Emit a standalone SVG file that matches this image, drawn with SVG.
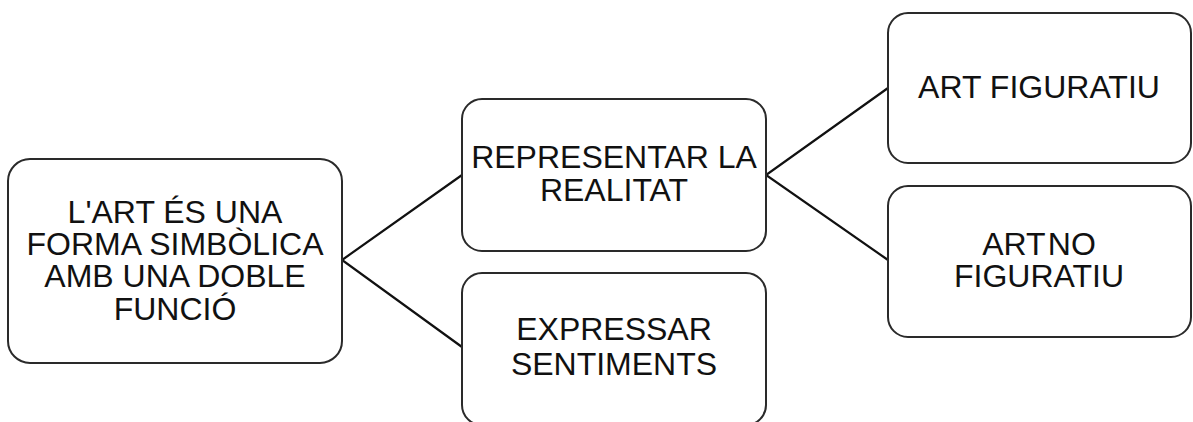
<svg xmlns="http://www.w3.org/2000/svg" width="1193" height="422" viewBox="0 0 1193 422">
<style>
.box{fill:#fff;stroke:#2a2a2a;stroke-width:2}
.t{font-family:"Liberation Sans",Arial,sans-serif;font-size:32px;fill:#111;text-anchor:middle}
.c{stroke:#111;stroke-width:2.2;fill:none}
</style>
<rect width="1193" height="422" fill="#fff"/>
<g id="connectors">
<polyline class="c" points="462,175 342,260 462,347"/>
<polyline class="c" points="888,88 766,175 888,260"/>
</g>
<g id="n1">
<rect class="box" x="8" y="159" width="334" height="204" rx="22"/>
<text class="t" x="175" y="223">L'ART ÉS UNA</text>
<text class="t" x="175" y="255">FORMA SIMBÒLICA</text>
<text class="t" x="175" y="287">AMB UNA DOBLE</text>
<text class="t" x="175" y="320">FUNCIÓ</text>
</g>
<g id="n2">
<rect class="box" x="462" y="99" width="304" height="152" rx="20"/>
<text class="t" x="614" y="168">REPRESENTAR LA</text>
<text class="t" x="614" y="201">REALITAT</text>
</g>
<g id="n3">
<rect class="box" x="462" y="273" width="304" height="152" rx="20"/>
<text class="t" x="614" y="340">EXPRESSAR</text>
<text class="t" x="614" y="375">SENTIMENTS</text>
</g>
<g id="n4">
<rect class="box" x="888" y="13" width="303" height="150" rx="20"/>
<text class="t" x="1039" y="98">ART FIGURATIU</text>
</g>
<g id="n5">
<rect class="box" x="888" y="186" width="303" height="151" rx="20"/>
<text class="t" x="1039" y="255" word-spacing="-6">ART NO</text>
<text class="t" x="1039" y="287">FIGURATIU</text>
</g>
</svg>
